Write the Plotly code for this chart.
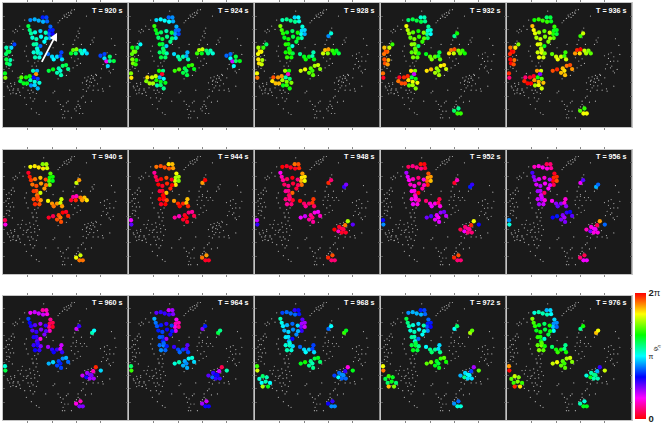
import math
import plotly.graph_objects as go

times = [920, 924, 928, 932, 936, 940, 944, 948, 952, 956, 960, 964, 968, 972, 976]
_ = None

# node positions per cluster (x, y), per-node phase offset (units of pi)
cap_xy = [(82,52),(95,50),(107,54),(119,44),(130,44),(120,57),(132,56)]
cap_off = [0,.05,.05,-.15,-.1,.05,-.05]
arm_xy = [(142,72),(140,84),(149,82),(138,94),(149,94),(140,106)]
arm_off = [.05,-.05,-.05,.02,-.1,.1]
trunk_xy = [(76,70),(80,82),(84,92),(96,89),(112,85),(128,90),(88,105),(100,109),(114,102),(129,107),(124,117),(100,124),(92,125),(112,130),(102,137)]
trunk_off = [.2,.12,.08,0,-.1,.05,0,.05,-.05,0,-.05,.05,.08,-.25,0]
low_xy = [(92,149),(104,150),(113,152),(96,164),(109,164),(104,143)]
low_off = [0,.05,-.1,.05,0,0]
mid_xy = [(135,154),(147,162),(152,170),(162,162),(175,149),(172,160),(177,170)]
mid_off = [-.05,.1,.15,.1,-.1,-.1,.1]
midr_xy = [(204,152),(210,142),(220,140),(218,152),(232,144),(244,144),(237,152),(251,152)]
midr_off = [.2,.35,.4,.1,0,-.1,-.05,-.15]
far_xy = [(292,159),(304,154),(304,167),(310,176),(320,162),(332,175),(320,175),(314,190)]
far_off = [-.2,-.2,0,-.6,.25,.3,.2,0]
left_xy = [(34,125),(25,135),(10,135),(19,147),(14,147),(9,154),(22,172),(10,170),(12,182),(20,185)]
left_off = [-.35,-.15,0,.1,.15,.1,0,.15,.15,.05]
pairl_xy = [(6,212),(7,225)]
pairl_off = [-.05,.15]
lowc_xy = [(90,204),(102,204),(99,214),(92,224),(104,228),(82,232),(55,224),(69,224),(80,220),(52,235),(62,242),(72,242),(109,240),(95,237),(84,248),(95,247),(104,257)]
lowc_off = [.1,-.1,.8,-.35,-.25,.1,.45,.35,.35,.25,.3,.3,.05,.05,-.15,-.05,-.1]
midl_xy = [(137,204),(150,200),(167,197),(179,189),(189,187),(195,199),(172,204),(162,210),(174,217)]
midl_off = [.1,.15,-.05,.05,.1,0,-.1,-.05,-.05]
upp_xy = [(220,100),(228,92)]
upp_off = [-.05,.15]
pair2_xy = [(267,112),(273,105)]
pair2_off = [.05,-.05]
lowr_xy = [(238,240),(250,245),(252,232),(260,237),(270,227),(278,215),(293,225),(260,249),(272,249),(265,239)]
lowr_off = [-.05,.2,0,.05,-.2,-.5,.5,0,0,.05]
bot_xy = [(219,324),(232,317),(229,332),(239,332)]
bot_off = [-.15,-.2,.05,.05]
bl_xy = [(23,242),(13,250),(35,245),(20,262),(45,262),(23,273),(39,273),(32,258)]
bl_off = [.1,-.05,0,-.1,-.1,.45,.2,0]

# cluster phase per frame, in units of pi; None = cluster silent in that frame
cap_ph = [.85,.95,1.1,1.2,1.35,1.65,1.85,0.0,.12,.25,.35,.55,.75,.85,1.05]
arm_ph = [.75,.85,1.0,1.1,1.35,1.4,1.6,1.75,1.85,0.0,.15,.28,.5,.75,.9]
trunk_ph = [1.05,1.2,1.3,1.45,1.55,1.85,0.0,.12,.25,.38,.55,.7,.9,1.05,1.3]
low_ph = [1.05,1.2,1.35,1.45,1.6,1.9,0.0,.15,.3,.4,.6,.8,1.05,1.25,1.45]
mid_ph = [.85,1.0,1.2,1.35,1.5,1.7,1.85,.03,.2,.38,.5,.65,.85,1.05,1.25]
midr_ph = [1.1,1.2,1.4,1.5,1.6,1.85,_,_,_,_,_,_,_,_,_]
far_ph = [.95,1.0,_,_,_,_,_,_,_,_,_,_,_,_,_]
left_ph = [1.1,1.35,1.55,1.75,1.85,_,_,_,_,_,_,_,_,_,_]
pairl_ph = [1.35,1.55,1.7,1.9,0.0,.15,.4,.45,.7,.9,1.1,1.25,1.45,1.7,1.85]
lowc_ph = [1.0,1.25,1.45,1.6,1.7,_,_,_,_,_,_,_,_,_,_]
midl_ph = [1.15,1.3,1.5,1.6,1.8,1.95,.1,.25,.42,.55,.8,.95,1.2,1.35,1.5]
upp_ph = [_,_,.9,1.2,1.45,1.65,1.85,0.0,.1,.4,.45,.55,.85,1.05,1.2]
pair2_ph = [_,_,_,_,_,_,_,.55,.65,.85,1.05,1.2,1.35,1.5,1.7]
lowr_ph = [_,_,_,_,_,_,_,.05,.15,.3,.45,.6,.8,.95,1.1]
bot_ph = [_,_,_,1.35,1.6,1.8,0.0,.1,.1,.3,.45,.6,.8,1.0,1.25]
bl_ph = [_,_,_,_,_,_,_,_,_,_,_,_,1.1,1.3,1.5]

clusters = [
    (cap_xy, cap_off, cap_ph), (arm_xy, arm_off, arm_ph), (trunk_xy, trunk_off, trunk_ph),
    (low_xy, low_off, low_ph), (mid_xy, mid_off, mid_ph), (midr_xy, midr_off, midr_ph),
    (far_xy, far_off, far_ph), (left_xy, left_off, left_ph), (pairl_xy, pairl_off, pairl_ph),
    (lowc_xy, lowc_off, lowc_ph), (midl_xy, midl_off, midl_ph), (upp_xy, upp_off, upp_ph),
    (pair2_xy, pair2_off, pair2_ph), (lowr_xy, lowr_off, lowr_ph), (bot_xy, bot_off, bot_ph),
    (bl_xy, bl_off, bl_ph),
]

# silent electrodes
bg_xy = [(206,22),(214,21),(196,30),(203,28),(190,34),(198,38),(185,42),(178,47),(170,54),(165,60),(204,32),(250,40),(192,44),(183,37),
 (122,25),(65,52),(50,70),(38,80),(30,85),(43,85),(35,90),(60,80),(30,115),(25,122),(18,130),(28,158),(17,162),(10,192),(18,182),(28,205),(18,197),(32,172),
 (45,225),(58,212),(35,240),(25,250),(15,255),(30,262),(45,258),(50,268),(60,255),(70,248),(85,262),(90,268),(100,272),(75,262),(80,272),(30,270),(40,272),(52,278),(65,285),(82,285),(90,295),(95,288),(70,305),(85,318),(100,330),(108,335),(128,295),(75,240),
 (95,180),(87,190),(100,190),(105,175),(90,200),(75,175),(65,145),(70,130),(70,160),(130,125),(180,125),(150,135),(225,85),(230,76),(225,105),(215,112),(210,125),(220,135),(262,125),(270,118),(235,125),(205,165),(225,168),(215,175),(232,182),(222,188),(210,195),(200,205),(190,218),(165,228),(150,270),(155,265),
 (325,108),(335,128),(338,155),(312,150),(300,185),(310,195),(318,205),(330,200),(322,210),(295,198),
 (245,225),(255,222),(265,218),(270,222),(280,218),(275,232),(262,228),(250,235),(283,243),(255,255),(240,260),(250,265),(270,262),(285,262),(298,258),(300,265),(320,250),(240,280),(235,285),(225,295),(247,298),(230,310),(265,295),(200,262),
 (165,295),(172,305),(180,310),(190,300),(195,295),(175,320),(185,325),(195,325),(180,335),(178,345),(205,345),(220,312),(225,305),(215,318),(185,345)]

# legend scale
phase_ticks = [0, math.pi, 2 * math.pi]
phase_labels = ["<b>0</b>", '<span style="font-size:7px">π</span>', "<b>2</b>π"]
hsv_scale = [[0, "#ff0000"], [1/6, "#ff00ff"], [1/3, "#0000ff"], [1/2, "#00ffff"], [2/3, "#00ff00"], [5/6, "#ffff00"], [1, "#ff0000"]]

arrow_tail = (114, 182)
arrow_tip = (162, 90)

W, H = 671, 425
lefts = [3, 129, 255, 381, 507]
tops = [2.7, 149.5, 295.5]
pw, ph_ = 124.5, 124.5
xr, yr = 373, 373

fig = go.Figure()
anns = []
layout = {}
for k, t in enumerate(times):
    r, c = k // 5, k % 5
    s = "" if k == 0 else str(k + 1)
    xa, ya = "x" + s, "y" + s
    axis = dict(showgrid=False, zeroline=False, showticklabels=False, showline=True, linecolor="#c4c4c4",
                linewidth=1, mirror="ticks", ticklen=2, tickwidth=0.6, tickcolor="#888888")
    layout["xaxis" + s] = dict(axis, domain=[lefts[c] / W, (lefts[c] + pw) / W], range=[0, xr], anchor=ya,
                               tickvals=[72, 147, 220, 293], ticks="outside", fixedrange=True)
    layout["yaxis" + s] = dict(axis, domain=[1 - (tops[r] + ph_) / H, 1 - tops[r] / H], range=[yr, 0], anchor=xa,
                               tickvals=[40, 80, 120, 160, 200, 240, 280, 320], ticks="inside", tickcolor="#555555", fixedrange=True)
    gx = [p[0] for p in bg_xy]
    gy = [p[1] for p in bg_xy]
    nx, ny, nc = [], [], []
    for xy, off, phs in clusters:
        v = phs[k]
        for (x, y), o in zip(xy, off):
            if v is None:
                gx.append(x)
                gy.append(y)
            else:
                nx.append(x)
                ny.append(y)
                nc.append(((v + o) % 2) * math.pi)
    fig.add_trace(go.Scatter(x=gx, y=gy, xaxis=xa, yaxis=ya, mode="markers", hoverinfo="skip", showlegend=False,
                             marker=dict(size=1.2, color="#b4b4b4", line=dict(width=0))))
    fig.add_trace(go.Scatter(x=nx, y=ny, xaxis=xa, yaxis=ya, mode="markers", showlegend=False,
                             marker=dict(size=4.3, color=nc, cmin=0, cmax=2 * math.pi, colorscale=hsv_scale,
                                         line=dict(width=0))))
    anns.append(dict(x=366, y=22, xref=xa, yref=ya, text=f"<b>T = {t} s</b>", showarrow=False, xanchor="right",
                     yanchor="middle", font=dict(family="Liberation Sans", size=7.2, color="white")))

anns.append(dict(x=arrow_tip[0], y=arrow_tip[1], ax=arrow_tail[0], ay=arrow_tail[1], xref="x", yref="y", axref="x", ayref="y",
                 showarrow=True, arrowhead=2, arrowsize=0.9, arrowwidth=1.8, arrowcolor="white", text=""))
anns.append(dict(x=665 / W, y=1 - 355 / H, xref="paper", yref="paper", text="φ<sub>n</sub>", textangle=-70, showarrow=False,
                 font=dict(family="Liberation Serif", size=8, color="#333333")))

# invisible carrier for the colour scale
fig.add_trace(go.Scatter(x=[None], y=[None], mode="markers", showlegend=False, hoverinfo="skip",
                         marker=dict(color=[0], cmin=0, cmax=2 * math.pi, colorscale=hsv_scale, showscale=True,
                                     colorbar=dict(x=635 / W, xanchor="left", xpad=0, ypad=0, thickness=11, thicknessmode="pixels",
                                                   len=126 / H, lenmode="fraction", y=1 - 356 / H, yanchor="middle",
                                                   outlinewidth=0, tickvals=phase_ticks, ticktext=phase_labels, ticks="",
                                                   tickfont=dict(family="Liberation Sans", size=9.5, color="#222222")))))

fig.update_layout(width=W, height=H, margin=dict(l=0, r=0, t=0, b=0), paper_bgcolor="white", plot_bgcolor="#1a1a1a",
                  annotations=anns, showlegend=False, **layout)
fig.write_html("out.html", config={"displayModeBar": False},
               post_script="document.body.style.margin='0';document.body.style.overflow='hidden';")
